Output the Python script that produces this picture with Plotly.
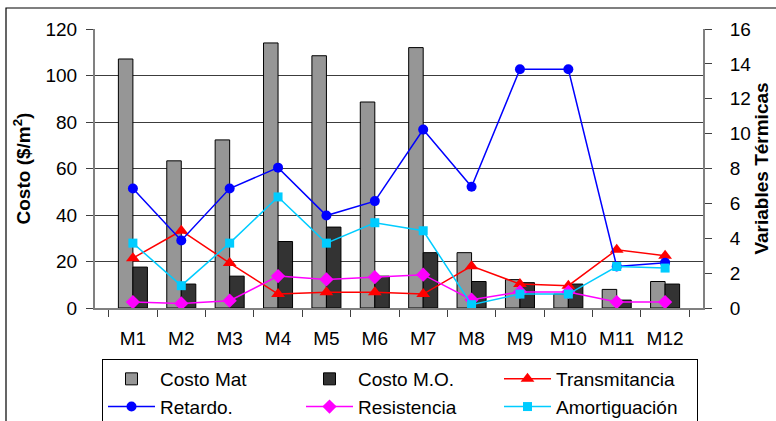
import plotly.graph_objects as go

# Monthly cost components and thermal variables
meses = ["M1", "M2", "M3", "M4", "M5", "M6", "M7", "M8", "M9", "M10", "M11", "M12"]
costo_mat = [107.1, 63.3, 72.3, 114.0, 108.5, 88.6, 112.0, 23.8, 12.2, 6.0, 8.0, 11.4]
costo_mo = [17.6, 10.3, 13.7, 28.6, 34.8, 13.7, 23.8, 11.4, 10.9, 10.3, 3.4, 10.3]
transmitancia = [2.86, 4.43, 2.58, 0.80, 0.90, 0.90, 0.80, 2.40, 1.37, 1.28, 3.34, 3.00]
retardo = [6.85, 3.87, 6.85, 8.05, 5.30, 6.13, 10.23, 6.95, 13.69, 13.69, 2.38, 2.60]
resistencia = [0.34, 0.26, 0.42, 1.83, 1.64, 1.77, 1.91, 0.48, 0.92, 0.92, 0.34, 0.34]
amortiguacion = [3.72, 1.28, 3.72, 6.37, 3.72, 4.89, 4.43, 0.19, 0.80, 0.80, 2.38, 2.29]

FONT = "Liberation Sans, Arial, sans-serif"

fig = go.Figure()

fig.add_trace(go.Bar(
    x=meses, y=costo_mat, name="Costo Mat",
    marker=dict(color="#969696", line=dict(color="#000000", width=1)),
))
fig.add_trace(go.Bar(
    x=meses, y=costo_mo, name="Costo M.O.",
    marker=dict(color="#333333", line=dict(color="#000000", width=1)),
))


def linea(y, name, color, symbol, size):
    return go.Scatter(
        x=meses, y=y, name=name, yaxis="y2", mode="lines+markers",
        line=dict(color=color, width=1.5),
        marker=dict(color=color, symbol=symbol, size=size),
    )


fig.add_trace(linea(transmitancia, "Transmitancia", "#FF0000", "triangle-up", 12))
fig.add_trace(linea(retardo, "Retardo.", "#0000FF", "circle", 10))
fig.add_trace(linea(resistencia, "Resistencia", "#FF00FF", "diamond", 11))
fig.add_trace(linea(amortiguacion, "Amortiguación", "#00CCFF", "square", 9))

# chart frame (extends past the page on the right and bottom)
W, H = 776, 421
L, R, T, B = 95, 73, 29, 113
pw, ph = W - L - R, H - T - B


def px_x(p):
    return (p - L) / pw


def px_y(p):
    return (H - B - p) / ph


fig.add_shape(type="rect", xref="paper", yref="paper",
              x0=px_x(6), x1=px_x(790), y0=px_y(8), y1=px_y(440),
              line=dict(color="#000000", width=1.2), fillcolor="rgba(0,0,0,0)",
              layer="below")

fig.update_layout(
    width=W, height=H,
    margin=dict(l=L, r=R, t=T, b=B, autoexpand=False),
    paper_bgcolor="white", plot_bgcolor="white",
    font=dict(family=FONT, size=19, color="#000000"),
    barmode="group", bargap=0.4, bargroupgap=0,
    showlegend=True,
    legend=dict(
        orientation="h", x=px_x(102), y=px_y(359), xanchor="left", yanchor="top",
        bordercolor="#000000", borderwidth=1, bgcolor="white",
        font=dict(family=FONT, size=19), entrywidth=136, entrywidthmode="pixels",
        itemwidth=47, tracegroupgap=0,
    ),
    xaxis=dict(
        showline=True, linecolor="#808080", linewidth=2,
        ticks="outside", tickson="boundaries", ticklen=7, tickcolor="#404040",
        tickfont=dict(size=19), showgrid=False, ticklabelstandoff=12,
    ),
    yaxis=dict(
        range=[0, 120], dtick=20, showline=True, linecolor="#808080", linewidth=2,
        ticks="outside", ticklen=7, tickcolor="#404040",
        showgrid=True, gridcolor="#3c3c3c", gridwidth=1, zeroline=False,
        tickfont=dict(size=19), ticklabelstandoff=5,
        title=dict(text="<b>Costo ($/m<sup>2</sup>)</b>", font=dict(size=19), standoff=10),
    ),
    yaxis2=dict(
        range=[0, 16], dtick=2, overlaying="y", side="right",
        showline=True, linecolor="#808080", linewidth=2,
        ticks="outside", ticklen=7, tickcolor="#404040",
        showgrid=False, zeroline=False, tickfont=dict(size=19), ticklabelstandoff=14,
        title=dict(text="<b>Variables Térmicas</b>", font=dict(size=19), standoff=4),
    ),
)

fig.write_html("out.html")
